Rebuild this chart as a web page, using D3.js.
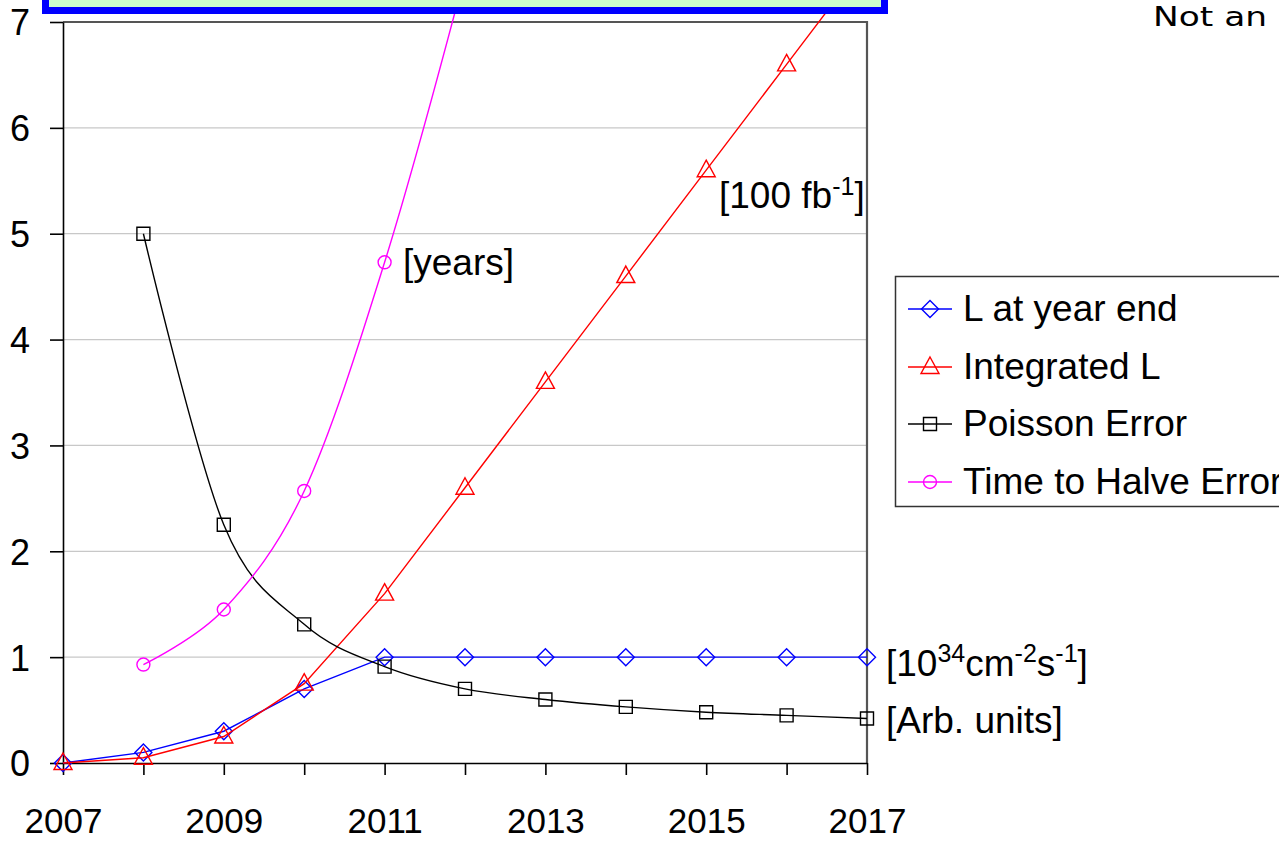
<!DOCTYPE html>
<html>
<head>
<meta charset="utf-8">
<script src="https://cdn.jsdelivr.net/npm/d3@7"></script>
<style>
  html, body { margin: 0; padding: 0; background: #fff; }
  svg { display: block; }
  text { font-family: "Liberation Sans", Arial, sans-serif; fill: #000; }
</style>
</head>
<body>
<svg id="chart" width="1279" height="841"></svg>
<script>
// ---------- data ----------
const years = [2007, 2008, 2009, 2010, 2011, 2012, 2013, 2014, 2015, 2016, 2017];
const lYearEnd   = [0, 0.1, 0.3, 0.7, 1, 1, 1, 1, 1, 1, 1];
const integratedL = [0, 0.05, 0.25, 0.75, 1.6, 2.6, 3.6, 4.6, 5.6, 6.6, 7.6];
const poissonYears = [2008, 2009, 2010, 2011, 2012, 2013, 2014, 2015, 2016, 2017];
const poissonError = [5.0, 2.25, 1.31, 0.91, 0.70, 0.60, 0.53, 0.48, 0.45, 0.42];
const halveYears = [2008, 2009, 2010, 2011, 2012, 2013];
const halveError = [0.93, 1.45, 2.57, 4.73, 7.45, 10.5];
const yTicks = [0, 1, 2, 3, 4, 5, 6, 7];
const xTickLabels = [2007, 2009, 2011, 2013, 2015, 2017];
const legendLabels = ["L at year end", "Integrated L", "Poisson Error", "Time to Halve Error"];

// ---------- layout ----------
const svg = d3.select("#chart");
const x = d3.scaleLinear().domain([2007, 2017]).range([63, 867]);
const y = d3.scaleLinear().domain([0, 7]).range([763, 22]);

// gridlines
svg.append("g").selectAll("line").data(yTicks.filter(d => d > 0 && d < 7)).join("line")
  .attr("x1", x(2007)).attr("x2", x(2017))
  .attr("y1", d => y(d)).attr("y2", d => y(d))
  .attr("stroke", "#c8c8c8").attr("stroke-width", 1.3);

// plot frame top/right
svg.append("path")
  .attr("d", `M${x(2007)},${y(7)}H${x(2017)}V${y(0)}`)
  .attr("fill", "none").attr("stroke", "#555").attr("stroke-width", 2.2);

// y axis
const yAxis = svg.append("g").attr("transform", `translate(${x(2007)},0)`)
  .call(d3.axisLeft(y).tickValues(yTicks).tickFormat(d3.format("d")).tickSize(13).tickPadding(20).tickSizeOuter(0));
yAxis.selectAll("text").style("font-size", "36px").attr("dy", "0.36em");
yAxis.selectAll("line,path").attr("stroke", "#000").attr("stroke-width", 1.6);

// x axis
const xAxis = svg.append("g").attr("transform", `translate(0,${y(0)})`)
  .call(d3.axisBottom(x).tickValues(years).tickFormat(d => xTickLabels.includes(d) ? d : "").tickSize(12).tickPadding(33).tickSizeOuter(0));
xAxis.selectAll("text").style("font-size", "35px");
xAxis.selectAll("line,path").attr("stroke", "#000").attr("stroke-width", 1.6);

// ---------- series ----------
const series = [
  { name: legendLabels[0], xs: years, ys: lYearEnd, color: "#0000ff", marker: "diamond", curve: d3.curveLinear },
  { name: legendLabels[1], xs: years, ys: integratedL, color: "#ff0000", marker: "triangle", curve: d3.curveLinear },
  { name: legendLabels[2], xs: poissonYears, ys: poissonError, color: "#000000", marker: "square", curve: d3.curveCatmullRom.alpha(0) },
  { name: legendLabels[3], xs: halveYears, ys: halveError, color: "#ff00ff", marker: "circle", curve: d3.curveCatmullRom.alpha(0) }
];

function markerPath(type) {
  switch (type) {
    case "diamond": return "M0,-8.5L8.5,0L0,8.5L-8.5,0Z";
    case "triangle": return "M0,-10L9,6.5L-9,6.5Z";
    case "square": return "M-6.5,-6.5H6.5V6.5H-6.5Z";
    case "circle": return "M6.5,0A6.5,6.5 0 1,1 -6.5,0A6.5,6.5 0 1,1 6.5,0Z";
  }
}

const gSeries = svg.append("g");
series.forEach(s => {
  const pts = s.xs.map((xv, i) => [xv, s.ys[i]]);
  gSeries.append("path")
    .attr("d", d3.line().x(d => x(d[0])).y(d => y(d[1])).curve(s.curve)(pts))
    .attr("fill", "none").attr("stroke", s.color).attr("stroke-width", 1.4);
  gSeries.append("g").selectAll("path").data(pts).join("path")
    .attr("transform", d => `translate(${x(d[0])},${y(d[1])})`)
    .attr("d", markerPath(s.marker))
    .attr("fill", "none").attr("stroke", s.color).attr("stroke-width", 1.4);
});

// ---------- annotations ----------
svg.append("text").attr("x", 403).attr("y", 275).style("font-size", "37px").text("[years]");

const t100 = svg.append("text").attr("x", 719).attr("y", 208).style("font-size", "37px");
t100.append("tspan").text("[100 fb");
t100.append("tspan").attr("dy", -13).style("font-size", "25px").text("-1");
t100.append("tspan").attr("dy", 13).text("]");

const tL = svg.append("text").attr("x", 886).attr("y", 676).style("font-size", "37px");
tL.append("tspan").text("[10");
tL.append("tspan").attr("dy", -14).style("font-size", "25px").text("34");
tL.append("tspan").attr("dy", 14).text("cm");
tL.append("tspan").attr("dy", -14).style("font-size", "25px").text("-2");
tL.append("tspan").attr("dy", 14).text("s");
tL.append("tspan").attr("dy", -14).style("font-size", "25px").text("-1");
tL.append("tspan").attr("dy", 14).text("]");

svg.append("text").attr("x", 886).attr("y", 733).style("font-size", "37px").text("[Arb. units]");

// ---------- legend ----------
const legend = svg.append("g");
legend.append("rect").attr("x", 895.5).attr("y", 276.5).attr("width", 420).attr("height", 230)
  .attr("fill", "#fff").attr("stroke", "#333").attr("stroke-width", 1.5);
const rowY = [309, 367, 424, 482];
series.forEach((s, i) => {
  legend.append("line").attr("x1", 908).attr("x2", 952).attr("y1", rowY[i]).attr("y2", rowY[i])
    .attr("stroke", s.color).attr("stroke-width", 1.4);
  legend.append("path").attr("transform", `translate(930,${rowY[i]})`).attr("d", markerPath(s.marker))
    .attr("fill", "none").attr("stroke", s.color).attr("stroke-width", 1.4);
  legend.append("text").attr("x", 963).attr("y", rowY[i] + 12).style("font-size", "37px").text(s.name);
});

// ---------- title box (cut off at top) ----------
svg.append("rect").attr("x", 45.5).attr("y", -30).attr("width", 839).attr("height", 40.5)
  .attr("fill", "#ccffcc").attr("stroke", "#0000ff").attr("stroke-width", 7);

// ---------- top-right fragment ----------
svg.append("text").attr("x", 1153).attr("y", 26)
  .attr("textLength", 114).attr("lengthAdjust", "spacingAndGlyphs")
  .style("font-family", "'Comic Sans MS', 'DejaVu Sans', sans-serif").style("font-size", "27px")
  .text("Not an");
</script>
</body>
</html>
